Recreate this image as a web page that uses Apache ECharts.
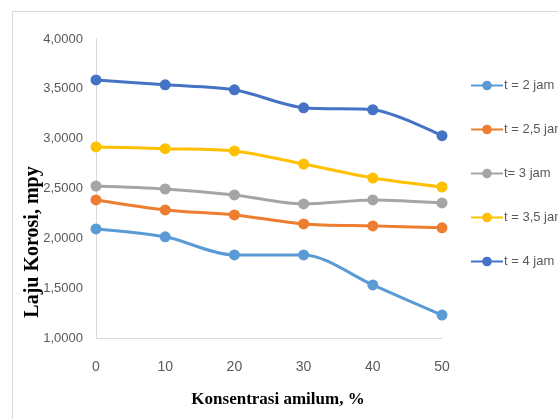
<!DOCTYPE html>
<html><head><meta charset="utf-8">
<script src="https://cdn.jsdelivr.net/npm/echarts@6/dist/echarts.min.js"></script>
<style>html,body{margin:0;padding:0;background:#fff}#c{width:558px;height:419px}</style>
</head><body><div id="c"></div>
<script>
var categories = ['0','10','20','30','40','50'];
var seriesNames = ['t = 2 jam','t = 2,5 jam','t= 3 jam','t = 3,5 jam','t = 4 jam'];
var t2 = [2.094, 2.015, 1.833, 1.833, 1.532, 1.23];
var t25 = [2.385, 2.285, 2.235, 2.145, 2.125, 2.105];
var t3 = [2.525, 2.495, 2.435, 2.345, 2.385, 2.355];
var t35 = [2.917, 2.90, 2.877, 2.745, 2.605, 2.515];
var t4 = [3.589, 3.54, 3.49, 3.31, 3.29, 3.03];
var xTitle = 'Konsentrasi amilum, %';
var yTitle = 'Laju Korosi, mpy';
var colors = ['#5B9BD5','#ED7D31','#A5A5A5','#FFC000','#4472C4'];
var allData = [t2, t25, t3, t35, t4];

var chart = echarts.init(document.getElementById('c'));
var labelFont = '"Liberation Sans", sans-serif';
var titleFont = '"Liberation Serif", serif';
chart.setOption({
  animation: false,
  color: colors,
  graphic: [
    {type:'rect', shape:{x:12.5, y:11.5, width:600, height:500}, style:{fill:'none', stroke:'#d9d9d9', lineWidth:1}, silent:true},
    {type:'text', x:33, y:242, rotation:Math.PI/2, style:{text:yTitle, font:'bold 20px ' + titleFont, fill:'#000', align:'center', verticalAlign:'middle'}},
    {type:'text', x:278, y:400, style:{text:xTitle, font:'bold 17px ' + titleFont, fill:'#000', align:'center', verticalAlign:'middle'}}
  ],
  grid: {left:96, right:116, top:39, bottom:81},
  legend: {
    orient:'vertical', left:465, top:74, itemWidth:32, itemHeight:12, itemGap:31,
    textStyle:{color:'#595959', fontSize:13, fontFamily:labelFont, padding:[0,0,0,-4]},
    data: seriesNames
  },
  xAxis: {
    type:'category', data:categories, boundaryGap:false,
    axisLine:{lineStyle:{color:'#d9d9d9', width:1}},
    axisTick:{show:false},
    axisLabel:{color:'#595959', fontSize:14, fontFamily:labelFont, margin:22}
  },
  yAxis: {
    type:'value', min:1, max:4, interval:0.5,
    axisLine:{show:true, lineStyle:{color:'#d9d9d9', width:1}},
    axisTick:{show:false},
    splitLine:{show:false},
    axisLabel:{color:'#595959', fontSize:13, fontFamily:labelFont, margin:13,
      formatter:function(v){return v.toFixed(4).replace('.',',');}}
  },
  series: seriesNames.map(function(n,i){
    return {name:n, type:'line', data:allData[i], smooth:0.3, symbol:'circle', symbolSize:11,
      lineStyle:{width:3, color:colors[i]}, itemStyle:{color:colors[i]}};
  })
});
</script></body></html>
